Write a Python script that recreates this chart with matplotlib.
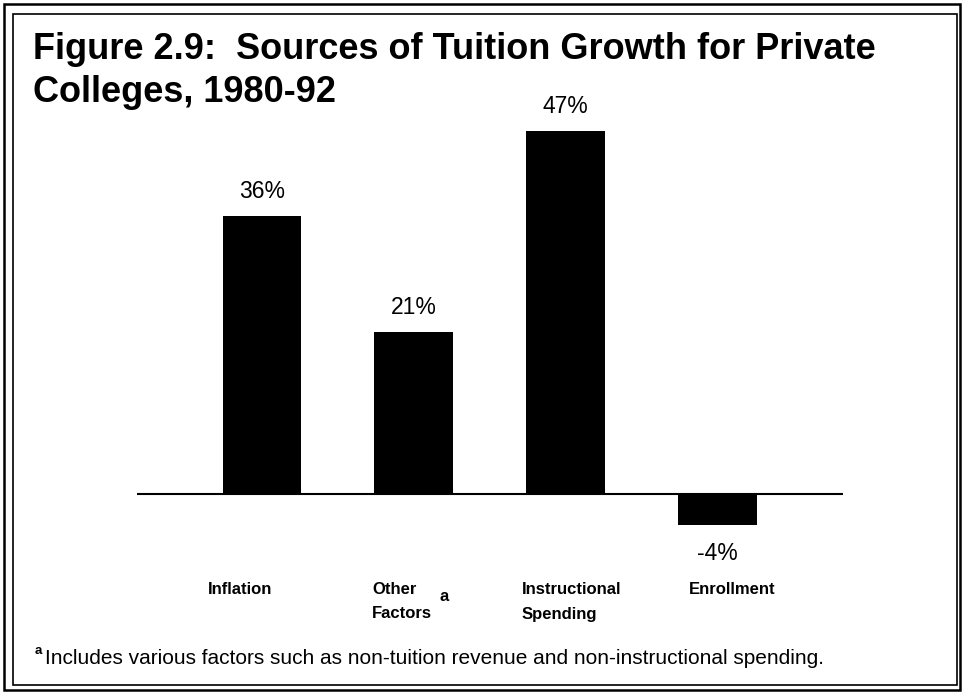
import numpy as np
import matplotlib.pyplot as plt
from matplotlib.patches import Rectangle
from matplotlib.transforms import blended_transform_factory

plt.rcParams['font.family'] = ['Liberation Sans', 'DejaVu Sans']

categories = ['Inflation', 'Other\nFactors', 'Instructional\nSpending', 'Enrollment']
growth_pct = [36, 21, 47, -4]
value_labels = ['36%', '21%', '47%', '-4%']
footnote = 'Includes various factors such as non-tuition revenue and non-instructional spending.'

W, H = 963, 692
fig = plt.figure(figsize=(W / 100, H / 100), dpi=100)


def fx(px):
    return px / W


def fy(py):
    return 1 - py / H


# double frame round the whole figure
fig.patches.append(Rectangle((fx(4), fy(690)), fx(956), 686 / H, transform=fig.transFigure,
                             fill=False, lw=1.8, ec='black'))
fig.patches.append(Rectangle((fx(13), fy(685)), fx(944), 671 / H, transform=fig.transFigure,
                             fill=False, lw=1.2, ec='black'))

fig.text(fx(33), fy(59), 'Figure 2.9:  Sources of Tuition Growth for Private',
         fontsize=26, fontweight='bold', va='baseline', ha='left')
fig.text(fx(33), fy(102), 'Colleges, 1980-92',
         fontsize=26, fontweight='bold', va='baseline', ha='left')

# plot area: x 137..843 px, y 100..570 px
ax = fig.add_axes([fx(137), fy(570), fx(843 - 137), (570 - 100) / H])
ax.set_axis_off()

x = np.arange(len(growth_pct))
ax.bar(x, growth_pct, width=0.52, color='black')
ax.axhline(0, color='black', lw=1.5)
ax.set_xlim(-0.824, 3.83)
ax.set_ylim(-9.845, 51.04)

for xi, v, lab in zip(x, growth_pct, value_labels):
    off = 3.15 if v >= 0 else -3.7
    ax.text(xi, v + off, lab, ha='center', va='center', fontsize=16.5)

# category names under the axis, left-aligned, one text per line
trans = blended_transform_factory(ax.transData, fig.transFigure)
label_x = [-0.356, 0.725, 1.714, 2.815]
for lx, name in zip(label_x, categories):
    for i, line in enumerate(name.split('\n')):
        ax.text(lx, fy(594.5 + 24 * i), line, transform=trans, ha='left', va='baseline',
                fontsize=12, fontweight='bold')
ax.text(1.17, fy(601), 'a', transform=trans, ha='left', va='baseline',
        fontsize=12, fontweight='bold')

fig.text(fx(35), fy(654), 'a', fontsize=9.5, fontweight='bold', va='baseline', ha='left')
fig.text(fx(45), fy(664), footnote, fontsize=15, va='baseline', ha='left')

fig.savefig('out.png', dpi=100)
